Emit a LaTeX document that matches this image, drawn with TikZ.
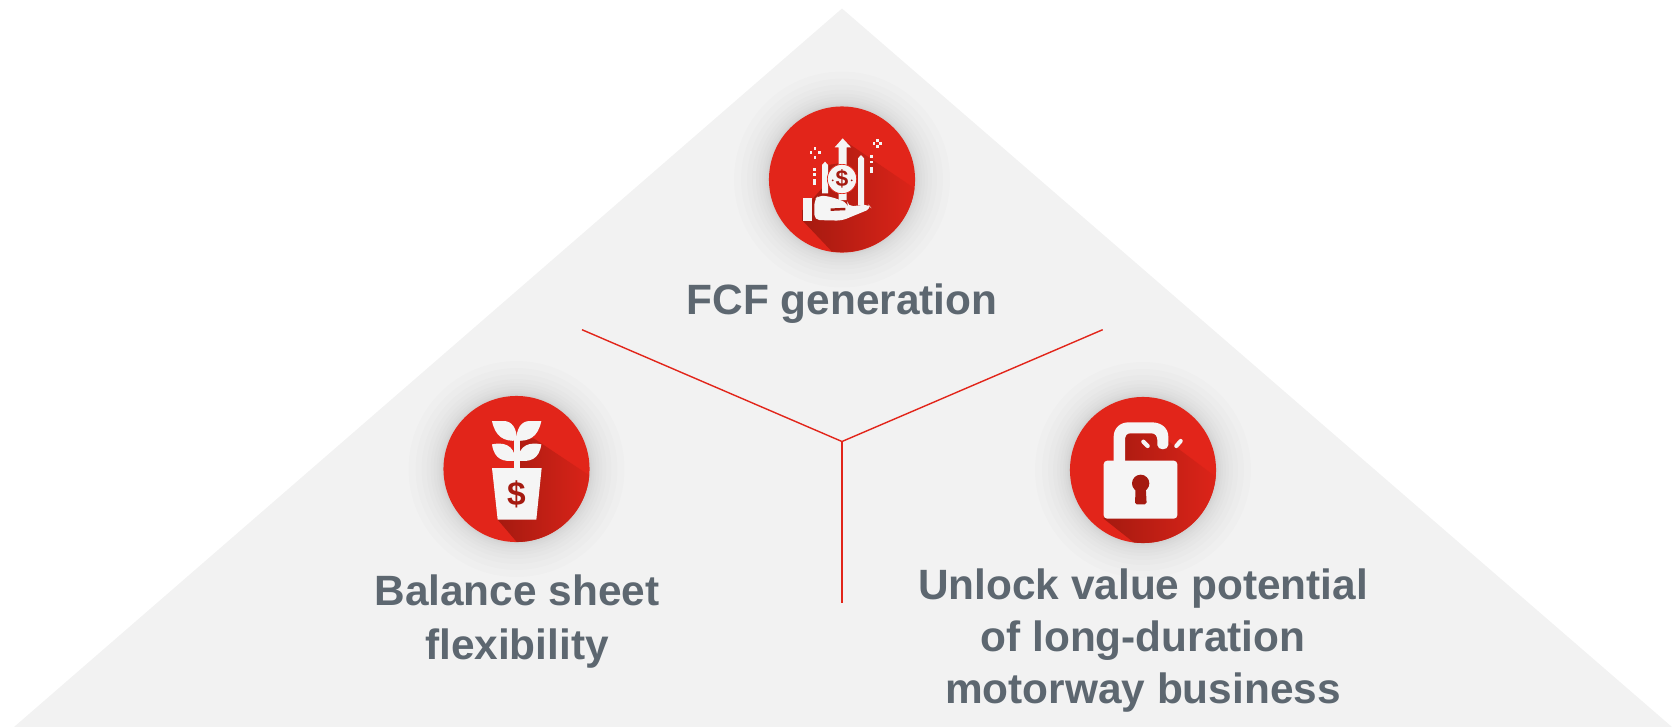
\documentclass[tikz,border=0pt]{standalone}
\usepackage{fontspec}
\setmainfont{Liberation Sans}
\definecolor{panelgray}{HTML}{F2F2F2}
\definecolor{badgered}{HTML}{E2251A}
\definecolor{shadowred}{HTML}{A51A10}
\definecolor{icongray}{HTML}{F5F5F5}
\definecolor{labelgray}{HTML}{5D6770}

\begin{document}
\begin{tikzpicture}[x=0.01cm,y=-0.01cm,
    badge/.style={circle,fill=badgered,minimum size=1.46cm,inner sep=0pt},
    glyph/.style={fill=icongray,draw=none},
    notch/.style={fill=shadowred,draw=none},
    longshadow/.style={left color=shadowred,right color=badgered,draw=none},
    heading/.style={text=labelgray,align=center,font=\fontsize{12.05}{15}\selectfont\bfseries},
    divider/.style={draw=badgered,line width=0.4pt}]
  \useasboundingbox (0,0) rectangle (1675,727);
  \fill[panelgray] (842,8.5) -- (1672,727) -- (14,727) -- cycle;

  \foreach \cx/\cy in {842/179.5,516.5/469,1143/470}
    \foreach \r in {74,75,76,78,80,83,86,90,95,101,108}
      \fill[black,opacity=0.01] (\cx,\cy) circle (\r);

  \node[badge] (fcfbadge) at (842,179.5) {};
  \node[badge] (balancebadge) at (516.5,469) {};
  \node[badge] (unlockbadge) at (1143,470) {};

  \begin{scope}[shift={(760,100)},scale=1/3]
    \begin{scope}
      \clip (246,237.5) circle (219);
      \shade[longshadow] (262,128) -- (500,290) -- (500,480) -- (240,480) -- (128,362) -- (128,330)
        -- (186,265) -- (204,195) -- (236,190) -- (250,125) -- cycle;
    \end{scope}
    \fill[glyph] (128,294) rectangle (156,362);
    \fill[glyph] (186,280) -- (186,195) -- (195,185) -- (204,195) -- (204,280) -- cycle;
    \fill[glyph] (294,315) -- (294,175) -- (303,165) -- (312,175) -- (312,315) -- cycle;
    \fill[glyph] (248,115) -- (273,142) -- (260,142) -- (260,300) -- (236,300) -- (236,142) -- (224,142) -- cycle;
    \fill[glyph,rounded corners=1.5pt] (163,360) -- (163,300) -- (176,286) -- (212,290) -- (262,308)
      -- (264,320) -- (325,313) -- (335,325) -- (245,362) -- cycle;
    \draw[shadowred,line width=0.7pt] (212,329) -- (256,327);
    \fill[glyph,draw=badgered,line width=0.2pt] (246,237) circle (44);
    \node[text=shadowred,font=\fontsize{6.5}{6.5}\selectfont\bfseries] (coinsign) at (246,237) {\$};
    \foreach \px/\py in {218/241,275/241}
      \fill[shadowred] (\px,\py) circle (3);
    \foreach \px/\py/\ph in {163/208/8,163/224/8,163/240/20,335/170/8,335/186/8,335/206/18,
        153/157/8,178/157/8,165/145/8,165/172/8,342/130/9,362/130/9,352/120/9,352/140/9}
      \fill[glyph] (\px-4,\py-4) rectangle (\px+4,\py-4+\ph);
  \end{scope}

  \begin{scope}[shift={(437,390)},scale=1/3]
    \begin{scope}
      \clip (238.5,237) circle (219);
      \shade[longshadow] (240,148) -- (290,145) -- (500,285) -- (500,480) -- (260,480) -- (182,389)
        -- (240,300) -- cycle;
    \end{scope}
    \fill[glyph] (232,150) rectangle (248,240);
    \fill[glyph] (165,234) -- (314,234) -- (298,389) -- (182,389) -- cycle;
    \fill[glyph] (165,93) -- (200,93) .. controls (225,93) and (240,115) .. (240,152)
      .. controls (200,155) and (175,140) .. (165,93) -- cycle;
    \fill[glyph] (313,93) -- (278,93) .. controls (253,93) and (238,115) .. (238,152)
      .. controls (278,155) and (303,140) .. (313,93) -- cycle;
    \fill[glyph] (165,163) .. controls (195,157) and (232,160) .. (236,212)
      .. controls (200,216) and (172,210) .. (165,163) -- cycle;
    \fill[glyph] (313,163) .. controls (283,157) and (246,160) .. (242,212)
      .. controls (278,216) and (306,210) .. (313,163) -- cycle;
    \node[text=shadowred,font=\fontsize{9.5}{9.5}\selectfont\bfseries] (potsign) at (238,314) {\$};
  \end{scope}

  \begin{scope}[shift={(1060,390)},scale=1/3]
    \begin{scope}
      \clip (249,240) circle (219);
      \shade[longshadow] (320,150) -- (500,285) -- (500,480) -- (250,480) -- (131,386) -- (195,212)
        -- (195,130) -- (290,130) -- cycle;
    \end{scope}
    \fill[glyph] (161,220) -- (161,140) .. controls (161,115) and (180,97) .. (205,97) -- (275,97)
      .. controls (305,97) and (325,115) .. (325,140) -- (325,165) .. controls (325,182) and (292,182) .. (292,165)
      -- (292,150) .. controls (292,138) and (285,130) .. (275,130) -- (210,130)
      .. controls (200,130) and (195,138) .. (195,150) -- (195,220) -- cycle;
    \fill[glyph,rounded corners=1pt] (131,212) rectangle (352,386);
    \draw[icongray,line width=1.2pt,line cap=round] (250,155) -- (263,168);
    \draw[icongray,line width=1.2pt,line cap=round] (349,168) -- (362,153);
    \fill[notch] (242,280) circle (26);
    \fill[notch,rounded corners=0.5pt] (227,285) -- (257,285) -- (260,343) -- (225,343) -- cycle;
  \end{scope}

  \node[heading] (fcflabel) at (842,303.5) {FCF generation};
  \node[heading] (balancelabel) at (517,621.5) {Balance sheet\\[0.2pt]flexibility};
  \node[heading,font=\fontsize{12.05}{14.7}\selectfont\bfseries] (unlocklabel) at (1143,640.5) {Unlock value potential\\of long-duration\\motorway business};

  \coordinate (hub) at (842,441.5);
  \coordinate (armleft) at (582,329.7);
  \coordinate (armright) at (1102.7,329.7);
  \coordinate (armdown) at (842,603.3);
  \draw[divider] (armleft) -- (hub) -- (armright);
  \draw[divider] (hub) -- (armdown);
\end{tikzpicture}
\end{document}
